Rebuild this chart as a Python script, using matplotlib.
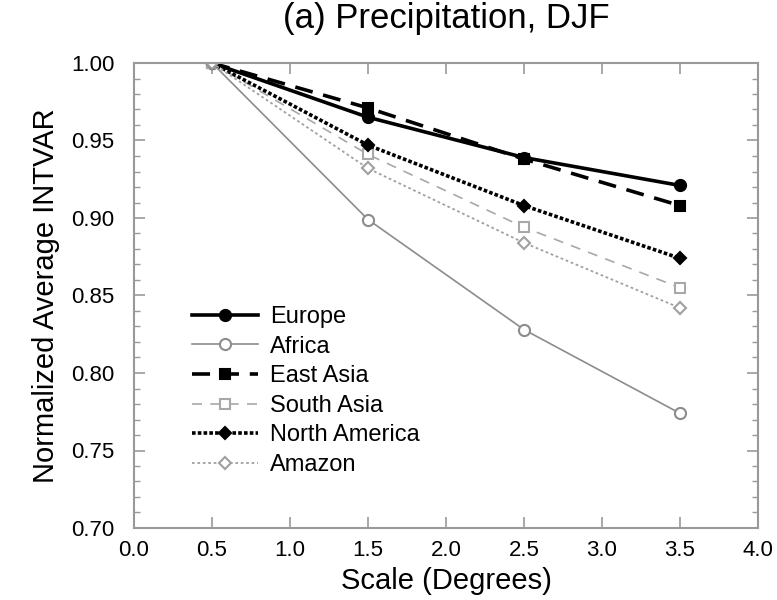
import matplotlib
matplotlib.use("Agg")
import matplotlib.pyplot as plt
from matplotlib.ticker import MultipleLocator

plt.rcParams['font.family'] = ['Liberation Sans', 'DejaVu Sans']

scale = [0.5, 1.5, 2.5, 3.5]
europe = [1.0, 0.965, 0.939, 0.921]
africa = [1.0, 0.899, 0.828, 0.774]
east_asia = [1.0, 0.971, 0.938, 0.908]
south_asia = [1.0, 0.941, 0.894, 0.855]
north_america = [1.0, 0.947, 0.908, 0.874]
amazon = [1.0, 0.932, 0.884, 0.842]

series = [
    ('Europe', europe, dict(color='black', ls='-', lw=2.6, marker='o', ms=8, mfc='black')),
    ('Africa', africa, dict(color='#8c8c8c', ls='-', lw=1.2, marker='o', ms=8, mfc='white')),
    ('East Asia', east_asia, dict(color='black', ls=(0, (5, 3)), lw=2.6, marker='s', ms=7, mfc='black')),
    ('South Asia', south_asia, dict(color='#a8a8a8', ls=(0, (6, 5)), lw=1.2, marker='s', ms=7, mfc='white')),
    ('North America', north_america, dict(color='black', ls=(0, (1, 0.6)), lw=2.6, marker='D', ms=6, mfc='black')),
    ('Amazon', amazon, dict(color='#a0a0a0', ls=(0, (1.5, 1.5)), lw=1.3, marker='D', ms=6, mfc='white')),
]

fig = plt.figure(figsize=(7.77, 6.0), dpi=100)
ax = fig.add_axes([0.1725, 0.12, 0.803, 0.775])

for name, vals, style in series:
    ax.plot(scale, vals, label=name, mew=1.5, **style)

ax.set_xlim(0.0, 4.0)
ax.set_ylim(0.70, 1.00)
ax.xaxis.set_major_locator(MultipleLocator(0.5))
ax.yaxis.set_major_locator(MultipleLocator(0.05))
ax.yaxis.set_minor_locator(MultipleLocator(0.01))
ax.xaxis.set_major_formatter(plt.FormatStrFormatter('%.1f'))
ax.yaxis.set_major_formatter(plt.FormatStrFormatter('%.2f'))
ax.tick_params(which='both', direction='in', top=True, right=True, color='#999999')
ax.tick_params(which='major', length=8, width=1.2, labelsize=16)
ax.tick_params(axis='y', which='major', pad=14)
ax.tick_params(axis='x', which='major', pad=9)
ax.tick_params(which='minor', length=4, width=1.0)
for sp in ax.spines.values():
    sp.set_color('#999999')
    sp.set_linewidth(1.5)

ax.set_xlabel('Scale (Degrees)', fontsize=21, labelpad=4)
ax.set_ylabel('Normalized Average INTVAR', fontsize=21, labelpad=8)
ax.set_title('(a) Precipitation, DJF', fontsize=25, pad=25)

ax.legend(loc='upper left', bbox_to_anchor=(0.093, 0.477), frameon=False,
          fontsize=17, handlelength=2.8, handletextpad=0.5, labelspacing=0.32,
          borderaxespad=0, borderpad=0)

fig.savefig('out.png', dpi=100, facecolor='white')
